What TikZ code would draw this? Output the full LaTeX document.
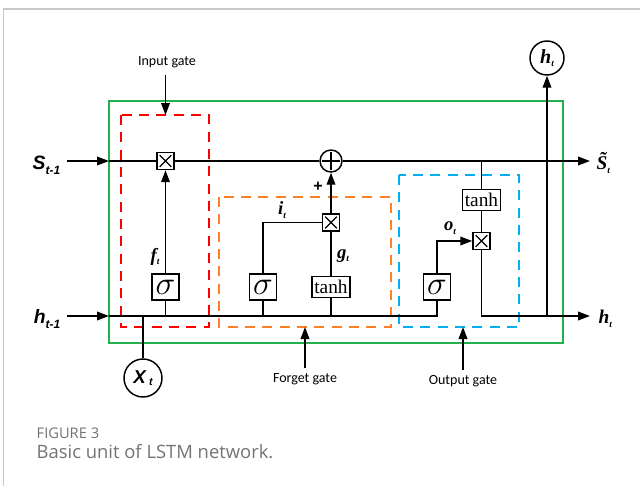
\documentclass[tikz,border=0pt]{standalone}
\usepackage{fontspec}
\usetikzlibrary{arrows.meta}
\newfontfamily\calfont{Carlito}
\newfontfamily\arialfont{Liberation Sans}
\newfontfamily\timesfont{Liberation Serif}
\newfontfamily\capfont{Open Sans}
\definecolor{boxgreen}{RGB}{34,177,76}
\definecolor{gatered}{RGB}{255,0,0}
\definecolor{gateorange}{RGB}{255,127,39}
\definecolor{gateblue}{RGB}{0,176,240}
\newcommand{\tlbl}[2]{{\timesfont\bfseries\itshape #1\raisebox{-2.5pt}{\fontsize{7}{7}\selectfont #2}}}
\newcommand{\albl}[2]{{\arialfont\bfseries\itshape\fontsize{14.5}{14.5}\selectfont #1\raisebox{-3.5pt}{\fontsize{9}{9}\selectfont #2}}}

\begin{document}
\begin{tikzpicture}[x=0.75pt,y=-0.75pt,line width=1.1pt,
	arr/.style={-{Triangle[length=9pt,width=6.5pt]}},
	mulbox/.style={draw,fill=white,minimum size=12.75pt,inner sep=0pt,
		path picture={\draw[line width=1pt]
			([shift={(2pt,2pt)}]path picture bounding box.south west) -- ([shift={(-2pt,-2pt)}]path picture bounding box.north east)
			([shift={(2pt,-2pt)}]path picture bounding box.north west) -- ([shift={(-2pt,2pt)}]path picture bounding box.south east);}},
	sumnode/.style={circle,draw,fill=white,minimum size=16.5pt,inner sep=0pt,
		path picture={\draw[line width=1.1pt]
			([xshift=1.5pt]path picture bounding box.west) -- ([xshift=-1.5pt]path picture bounding box.east)
			([yshift=-1.5pt]path picture bounding box.north) -- ([yshift=1.5pt]path picture bounding box.south);}},
	sigbox/.style={draw,fill=white,minimum width=20pt,minimum height=19.5pt,inner sep=0pt,font=\fontsize{24}{24}\selectfont},
	tanhbox/.style={draw,fill=white,minimum width=28.5pt,minimum height=15.75pt,inner sep=0pt,font=\timesfont\fontsize{14.5}{14.5}\selectfont},
	gatelbl/.style={font=\calfont\fontsize{10.5}{12}\selectfont,inner sep=0pt},
	dashbox/.style={dash pattern=on 7.5pt off 5.5pt,line width=1.5pt}]
	\useasboundingbox (0,0) rectangle (640,486);
	\draw[black!22,line width=0.8pt] (3.7,486) -- (3.7,9) -- (640,9);

	% gates
	\draw[boxgreen,line width=1.5pt] (109,101) rectangle (563,343);
	\draw[gatered,dashbox] (121,115) rectangle (209,327);
	\draw[gateorange,dashbox] (219,197) rectangle (391,327);
	\draw[gateblue,dashbox] (399,175) rectangle (519,327);

	% operators
	\path (165.5,161) node[mulbox] (mf) {};
	\path (331,161) node[sumnode] (sum) {};
	\path (165.5,287) node[sigbox] (sf) {$\sigma$};
	\path (263,287) node[sigbox] (si) {$\sigma$};
	\path (331,287) node[tanhbox] (tg) {tanh};
	\path (331,222.5) node[mulbox] (mi) {};
	\path (437,287) node[sigbox] (so) {$\sigma$};
	\path (481.5,241) node[mulbox] (mo) {};
	\path (481.5,200) node[tanhbox] (tc) {tanh};
	\path (547,58) node[circle,draw,minimum size=25.5pt,inner sep=0pt] (hc) {\tlbl{\fontsize{15}{15}\selectfont h}{t}};
	\path (143,378) node[circle,draw,minimum size=28.5pt,inner sep=0pt] (xc) {{\arialfont\bfseries\itshape\fontsize{14}{14}\selectfont X\,\raisebox{-1.5pt}{\fontsize{8}{8}\selectfont t}}};

	% signal labels
	\path (61,165) node[anchor=east,inner sep=0pt] (sin) {\albl{S}{t-1}};
	\path (61,319) node[anchor=east,inner sep=0pt] (hin) {\albl{h}{t-1}};
	\path (596,163) node[anchor=west,inner sep=0pt] (sot) {{\timesfont\bfseries\itshape\fontsize{14.5}{14.5}\selectfont \~{S}\raisebox{-3pt}{\fontsize{7}{7}\selectfont t}}};
	\path (598,319) node[anchor=west,inner sep=0pt] (hot) {\tlbl{\fontsize{14.5}{14.5}\selectfont h}{t}};
	\path (155,257) node (lf) {\tlbl{\fontsize{14}{14}\selectfont f}{t}};
	\path (282,210) node (li) {\tlbl{\fontsize{14}{14}\selectfont i}{t}};
	\path (343,256) node (lg) {\tlbl{\fontsize{14}{14}\selectfont g}{t}};
	\path (450,228) node (lo) {\tlbl{\fontsize{14}{14}\selectfont o}{t}};
	\path (318,187) node (lp) {\arialfont\bfseries\fontsize{12}{12}\selectfont +};

	\path (167,62) node[gatelbl] (ig) {Input gate};
	\path (305,379) node[gatelbl] (fg) {Forget gate};
	\path (463,381.5) node[gatelbl] (og) {Output gate};

	\coordinate (s0) at (67,161);
	\coordinate (s1) at (109,161);
	\coordinate (sout) at (590,161);
	\coordinate (h0) at (67,316);
	\coordinate (h1) at (109,316);
	\coordinate (hout) at (590,316);
	\coordinate (hj) at (547,316);
	\coordinate (cj) at (481.5,161);
	\coordinate (xj) at (143,316);
	\coordinate (igt) at (165.5,75);
	\coordinate (igb) at (165.5,115);
	\coordinate (fgt) at (305,368);
	\coordinate (fgb) at (305,327);
	\coordinate (ogt) at (463,370);
	\coordinate (ogb) at (463,327);

	% cell state
	\draw[arr] (s0) -- (s1);
	\draw (s1) -- (mf.west);
	\draw (mf.east) -- (sum.west);
	\draw[arr] (sum.east) -- (sout);
	% hidden state
	\draw[arr] (h0) -- (h1);
	\draw (h1) -- (so.south |- h1) -- (so.south);
	\draw (sf.south) -- (sf.south |- h1);
	\draw (si.south) -- (si.south |- h1);
	\draw (tg.south) -- (tg.south |- h1);
	\draw (xc.north) -- (xj);
	% gates
	\draw[arr] (sf.north) -- (mf.south);
	\draw (si.north) |- (mi.west);
	\draw (tg.north) -- (mi.south);
	\draw[arr] (mi.north) -- (sum.south);
	\draw[arr] (so.north) |- (mo.west);
	\draw (cj) -- (tc.north);
	\draw (tc.south) -- (mo.north);
	\draw[arr] (mo.south) |- (hout);
	\draw[arr] (hj) -- (hc.south);
	% gate pointers
	\draw[arr] (igt) -- (igb);
	\draw[arr] (fgt) -- (fgb);
	\draw[arr] (ogt) -- (ogb);

	% caption
	\path (36,433) node[anchor=west,inner sep=0pt,text=black!55,font=\capfont\fontsize{11}{12}\selectfont] (fig) {FIGURE 3};
	\path (36,452) node[anchor=west,inner sep=0pt,text=black!55,font=\capfont\fontsize{13.8}{15}\selectfont] (cap) {Basic unit of LSTM network.};
\end{tikzpicture}
\end{document}
